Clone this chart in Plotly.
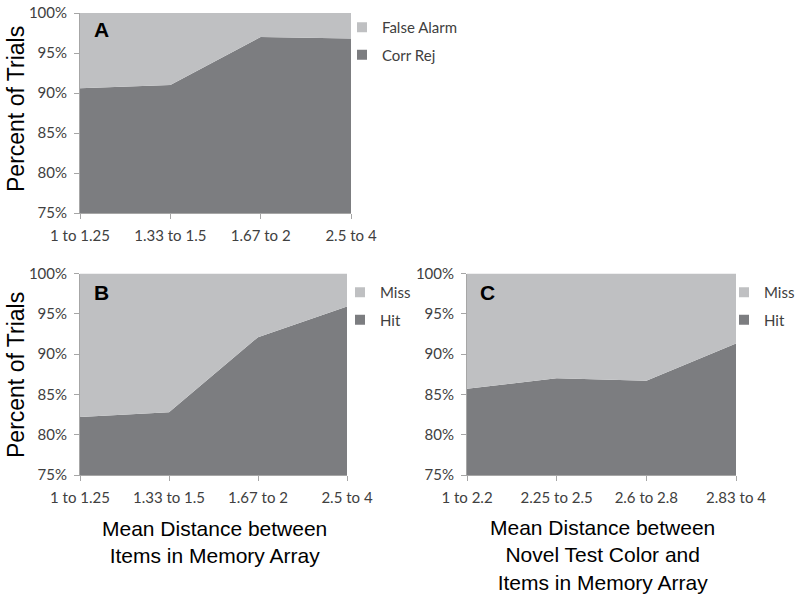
import plotly.graph_objects as go

# ---- data ----
cats_ab = ["1 to 1.25", "1.33 to 1.5", "1.67 to 2", "2.5 to 4"]
cats_c = ["1 to 2.2", "2.25 to 2.5", "2.6 to 2.8", "2.83 to 4"]
corr_rej_a = [90.6, 91.0, 97.0, 96.8]
false_alarm_a = [round(100 - v, 2) for v in corr_rej_a]
hit_b = [82.2, 82.8, 92.1, 95.9]
miss_b = [round(100 - v, 2) for v in hit_b]
hit_c = [85.7, 87.0, 86.7, 91.3]
miss_c = [round(100 - v, 2) for v in hit_c]
y_ticks = [75, 80, 85, 90, 95, 100]
y_ticktext = [f"{v}%" for v in y_ticks]

LIGHT = "#bfc0c2"
DARK = "#7c7d80"
TXT = "#404040"
AXC = "#a6a6a6"

fig = go.Figure()

def add_panel(cats, low, high, low_name, high_name, xa, ya, leg, grp):
    fig.add_trace(go.Scatter(x=cats, y=low, name=low_name, stackgroup=grp, mode="none",
                             fillcolor=DARK, xaxis=xa, yaxis=ya, showlegend=False))
    fig.add_trace(go.Scatter(x=cats, y=high, name=high_name, stackgroup=grp, mode="none",
                             fillcolor=LIGHT, xaxis=xa, yaxis=ya, showlegend=False))
    # legend entries (square swatches, Excel style)
    for rank, (nm, col) in enumerate([(high_name, LIGHT), (low_name, DARK)]):
        fig.add_trace(go.Scatter(x=[None], y=[None], name=nm, mode="markers",
                                 marker=dict(symbol="square", size=10, color=col),
                                 xaxis=xa, yaxis=ya, legend=leg, legendrank=rank + 1,
                                 legendgroup=grp + str(rank), hoverinfo="skip"))

add_panel(cats_ab, corr_rej_a, false_alarm_a, "Corr Rej", "False Alarm", "x", "y", "legend", "a")
add_panel(cats_ab, hit_b, miss_b, "Hit", "Miss", "x2", "y2", "legend2", "b")
add_panel(cats_c, hit_c, miss_c, "Hit", "Miss", "x3", "y3", "legend3", "c")

H = 596.0
W = 800.0

def px(x):
    return x / W

def py(y):
    return 1 - y / H

def yd(top, bot):
    return [py(bot), py(top)]

TICKFONT = dict(family="Lato", size=15, color=TXT)
xcommon = dict(type="category", range=[0, 3], showgrid=False, zeroline=False,
               showline=True, linecolor=AXC, ticks="outside", ticklen=5, tickcolor=AXC,
               tickfont=TICKFONT, ticklabelstandoff=4,
               automargin=False, fixedrange=True)
ycommon = dict(range=[75, 100], tickvals=y_ticks, ticktext=y_ticktext, showgrid=False,
               zeroline=False, showline=True, linecolor=AXC, ticks="outside", ticklen=5,
               tickcolor=AXC, tickfont=TICKFONT,
               ticklabelstandoff=4, automargin=False, fixedrange=True)

legcommon = dict(bgcolor="rgba(0,0,0,0)", font=dict(family="Lato", size=15, color=TXT),
                 traceorder="grouped", tracegroupgap=5, xanchor="left",
                 yanchor="top", itemwidth=30)

fig.update_layout(
    template="none",
    width=800, height=596,
    margin=dict(l=0, r=0, t=0, b=0, autoexpand=False),
    paper_bgcolor="white", plot_bgcolor="white",
    font=dict(family="Lato", size=15, color=TXT),
    xaxis=dict(domain=[px(80), px(351)], anchor="y", **xcommon),
    yaxis=dict(domain=yd(13, 213), anchor="x", **ycommon),
    xaxis2=dict(domain=[px(80), px(347)], anchor="y2", **xcommon),
    yaxis2=dict(domain=yd(273.5, 475), anchor="x2", **ycommon),
    xaxis3=dict(domain=[px(467), px(736)], anchor="y3", **xcommon),
    yaxis3=dict(domain=yd(273.5, 475), anchor="x3", **ycommon),
    legend=dict(x=px(342), y=py(11), **legcommon),
    legend2=dict(x=px(340), y=py(276), **legcommon),
    legend3=dict(x=px(724), y=py(276), **legcommon),
    showlegend=True,
)

ann_font_letter = dict(family="Liberation Sans", size=21, color="black")
title_font = dict(family="Liberation Sans", size=21, color="black")
anns = [
    dict(text="<b>A</b>", x=px(101), y=py(30)),
    dict(text="<b>B</b>", x=px(101), y=py(292)),
    dict(text="<b>C</b>", x=px(487), y=py(292)),
]
for a in anns:
    fig.add_annotation(xref="paper", yref="paper", showarrow=False, font=ann_font_letter,
                       xanchor="center", yanchor="middle", **a)

for yc in (109, 375):
    fig.add_annotation(text="Percent of Trials", xref="paper", yref="paper", x=px(16),
                       y=py(yc), textangle=-90, showarrow=False,
                       font=dict(family="Liberation Sans", size=23, color="black"),
                       xanchor="center", yanchor="middle")

fig.add_annotation(text="Mean Distance between<br>Items in Memory Array", xref="paper",
                   yref="paper", x=px(214), y=py(542), showarrow=False, font=title_font,
                   xanchor="center", yanchor="middle")
fig.add_annotation(text="Mean Distance between<br>Novel Test Color and<br>Items in Memory Array",
                   xref="paper", yref="paper", x=px(602), y=py(555), showarrow=False,
                   font=title_font, xanchor="center", yanchor="middle")

fig.write_html("out.html", config={"displayModeBar": False},
               post_script="document.body.style.margin='0';")
